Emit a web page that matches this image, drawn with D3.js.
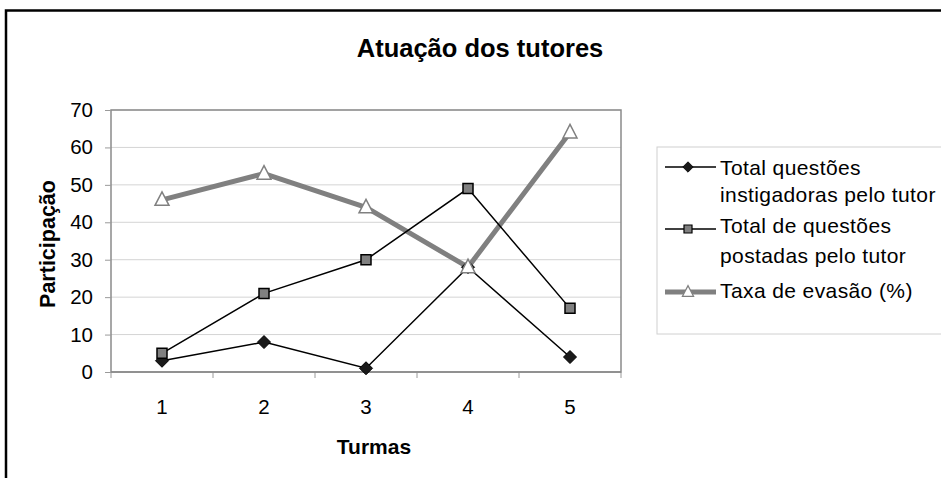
<!DOCTYPE html>
<html>
<head>
<meta charset="utf-8">
<script src="https://cdn.jsdelivr.net/npm/d3@7"></script>
<style>
  body { margin: 0; background: #fff; }
  svg { display: block; font-family: "Liberation Sans", Arial, sans-serif; }
</style>
</head>
<body>
<svg id="chart" width="941" height="478"></svg>
<script>
const categories = ["1", "2", "3", "4", "5"];
const instigadoras = [3, 8, 1, 28, 4];
const postadas = [5, 21, 30, 49, 17];
const evasao = [46, 53, 44, 28, 64];
const yTicks = [0, 10, 20, 30, 40, 50, 60, 70];
const seriesNames = [
  ["Total questões", "instigadoras pelo tutor"],
  ["Total de questões", "postadas pelo tutor"],
  ["Taxa de evasão (%)"]
];
const title = "Atuação dos tutores";
const xTitle = "Turmas";
const yTitle = "Participação";

const svg = d3.select("#chart");

// outer frame
svg.append("rect").attr("x", 6).attr("y", 10.5).attr("width", 950).attr("height", 480)
  .attr("fill", "#fff").attr("stroke", "#000").attr("stroke-width", 2.5);

const L = 111, R = 621, T = 110, B = 372;
const x = d3.scaleBand().domain(categories).range([L, R]).padding(0);
const y = d3.scaleLinear().domain([0, 70]).range([B, T]);

// gridlines
svg.append("g").selectAll("line").data(yTicks.filter(d => d > 0)).join("line")
  .attr("x1", L).attr("x2", R).attr("y1", d => y(d)).attr("y2", d => y(d))
  .attr("stroke", "#d4d4d4").attr("stroke-width", 1);

// plot border
svg.append("rect").attr("x", L).attr("y", T).attr("width", R - L).attr("height", B - T)
  .attr("fill", "none").attr("stroke", "#8a8a8a").attr("stroke-width", 1.5);

// y axis
const yAxis = d3.axisLeft(y).tickValues(yTicks).tickSize(6).tickPadding(12);
const gy = svg.append("g").attr("transform", `translate(${L},0)`).call(yAxis);
gy.select(".domain").remove();
gy.selectAll(".tick line").attr("stroke", "#9a9a9a");
gy.selectAll(".tick text").attr("font-size", 20.5).attr("fill", "#000")
  .attr("font-family", "Liberation Sans, Arial, sans-serif");

// x axis
const xAxis = d3.axisBottom(x).tickSize(0).tickPadding(0);
const gx = svg.append("g").attr("transform", `translate(0,${B})`).call(xAxis);
gx.select(".domain").remove();
gx.selectAll(".tick text").attr("font-size", 20.5).attr("fill", "#000")
  .attr("font-family", "Liberation Sans, Arial, sans-serif")
  .attr("dy", null).attr("y", 42);
// category boundary ticks
const bounds = categories.map(c => x(c)).concat([R]);
svg.append("g").selectAll("line").data(bounds).join("line")
  .attr("x1", d => d).attr("x2", d => d).attr("y1", B).attr("y2", B + 6)
  .attr("stroke", "#9a9a9a");
svg.append("line").attr("x1", L).attr("x2", R).attr("y1", B).attr("y2", B)
  .attr("stroke", "#8a8a8a").attr("stroke-width", 1.5);

const cx = c => x(c) + x.bandwidth() / 2;
const line = d3.line().x((d, i) => cx(categories[i])).y(d => y(d));

// series lines
svg.append("path").datum(evasao).attr("d", line).attr("fill", "none")
  .attr("stroke", "#808080").attr("stroke-width", 5).attr("stroke-linejoin", "round");
svg.append("path").datum(postadas).attr("d", line).attr("fill", "none")
  .attr("stroke", "#000").attr("stroke-width", 1.5);
svg.append("path").datum(instigadoras).attr("d", line).attr("fill", "none")
  .attr("stroke", "#000").attr("stroke-width", 1.5);

const diamond = "M0,-6.5L6.5,0L0,6.5L-6.5,0Z";
const square = "M-5,-5H5V5H-5Z";
const triangle = "M0,-8L7,5.5L-7,5.5Z";

function markers(data, path, fill, stroke, sw) {
  svg.append("g").selectAll("path").data(data).join("path")
    .attr("d", path)
    .attr("transform", (d, i) => `translate(${cx(categories[i])},${y(d)})`)
    .attr("fill", fill).attr("stroke", stroke).attr("stroke-width", sw);
}
markers(instigadoras, diamond, "#1a1a1a", "#000", 1);
markers(postadas, square, "#808080", "#000", 1.5);
markers(evasao, triangle, "#fff", "#808080", 1.5);

// title
svg.append("text").attr("x", 480).attr("y", 57).attr("text-anchor", "middle")
  .attr("font-size", 25.5).attr("font-weight", "bold").text(title);
svg.append("text").attr("x", 374).attr("y", 454).attr("text-anchor", "middle")
  .attr("font-size", 21).attr("font-weight", "bold").text(xTitle);
svg.append("text").attr("transform", "translate(55,244) rotate(-90)").attr("text-anchor", "middle")
  .attr("font-size", 21.5).attr("font-weight", "bold").text(yTitle);

// legend
svg.append("rect").attr("x", 657).attr("y", 147).attr("width", 300).attr("height", 187)
  .attr("fill", "#fff").attr("stroke", "#d0d0d0").attr("stroke-width", 1);
const legY = [167, 229, 292];
const legBase = [[175, 202], [233, 263], [298]];
const legStyles = [
  {stroke: "#000", sw: 1.5, path: diamond, fill: "#1a1a1a", ms: "#000", msw: 1},
  {stroke: "#000", sw: 1.5, path: square, fill: "#808080", ms: "#000", msw: 1.5},
  {stroke: "#808080", sw: 5, path: triangle, fill: "#fff", ms: "#808080", msw: 1.5}
];
seriesNames.forEach((names, i) => {
  const s = legStyles[i];
  const g = svg.append("g");
  g.append("line").attr("x1", 665).attr("x2", 716).attr("y1", legY[i]).attr("y2", legY[i])
    .attr("stroke", s.stroke).attr("stroke-width", s.sw);
  g.append("path").attr("d", s.path).attr("transform", `translate(688,${legY[i]}) scale(0.8)`)
    .attr("fill", s.fill).attr("stroke", s.ms).attr("stroke-width", s.msw);
  names.forEach((t, j) => {
    g.append("text").attr("x", 720).attr("y", legBase[i][j]).attr("font-size", 21)
      .attr("letter-spacing", 0.4).text(t);
  });
});
</script>
</body>
</html>
